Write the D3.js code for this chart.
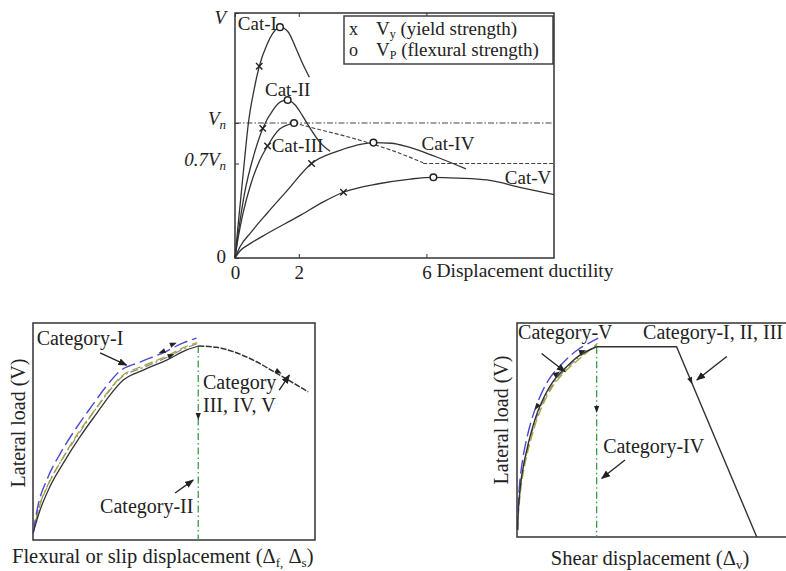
<!DOCTYPE html>
<html lang="en">
<head>
<meta charset="UTF-8">
<title>lateral load categories</title>
<script src="https://cdn.jsdelivr.net/npm/d3@7"></script>
<style>
  body { margin: 0; background: #fff; }
  text { font-family: "Liberation Serif", "Times New Roman", serif; fill: #222; }
</style>
</head>
<body>
<div id="viz-wrapper"></div>
<script>
// ---- top panel data (x = displacement ductility, y = V / Vn)
var catI = [[0,0],[0.1,0.25],[0.2,0.49],[0.3,0.73],[0.42,1.0],[0.6,1.25],[0.76,1.42],[1.0,1.58],[1.2,1.67],[1.41,1.71],[1.65,1.68],[1.9,1.56],[2.1,1.45],[2.33,1.34]];
var catII = [[0,0],[0.1,0.18],[0.3,0.48],[0.6,0.77],[0.87,0.96],[1.2,1.1],[1.45,1.16],[1.65,1.17],[1.9,1.13],[2.1,1.06],[2.33,0.97],[2.65,0.86],[2.98,0.79]];
var catIII = [[0,0],[0.1,0.15],[0.25,0.33],[0.5,0.55],[0.75,0.71],[1.02,0.83],[1.4,0.955],[1.85,1.0]];
var catIIIpost = [[1.85,1.0],[2.5,0.96],[3.5,0.9],[4.3,0.845],[5.0,0.79],[5.9,0.706]];
var catIV = [[0,0],[0.15,0.08],[0.5,0.19],[1.0,0.33],[1.6,0.49],[2.4,0.70],[3.2,0.79],[3.8,0.835],[4.34,0.855],[4.9,0.85],[5.4,0.825],[6.3,0.75],[7.24,0.66]];
var catV = [[0,0],[0.15,0.05],[0.5,0.11],[1.0,0.18],[2.0,0.31],[2.8,0.42],[3.4,0.487],[4.5,0.55],[5.5,0.585],[6.22,0.598],[7.0,0.592],[7.9,0.578],[9.0,0.52],[10,0.47]];
var vnLine = [[0,1],[10,1]];
var v07Line = [[5.9,0.7],[10,0.7]];
var yieldPts = [[0.76,1.42],[0.87,0.96],[1.02,0.83],[2.4,0.70],[3.4,0.487]];
var peakPts = [[1.41,1.71],[1.65,1.17],[1.85,1.0],[4.34,0.855],[6.22,0.598]];
var xTicks = [0, 2, 6];
var yTicks = [0, 0.7, 1, 1.815];
var catNames = ["Cat-I", "Cat-II", "Cat-III", "Cat-IV", "Cat-V"];
var catAt = [[0.09,1.69],[0.94,1.2],[1.15,0.787],[5.85,0.8],[8.46,0.546]];

// ---- bottom-left panel (flexural / slip), 0-100 units
var flexBlack = [[0,3],[2.5,13.8],[6,24.6],[10.7,35.3],[16.7,47.6],[22.6,58.4],[27.3,66.8],[32,73.7],[39.1,78.3],[47.4,82.9],[54.5,87.6],[58.6,89.4]];
var flexPost = [[58.6,89.4],[65.1,88.8],[71,86.8],[78.1,82.9],[86.4,76.8],[97.6,68.3]];
var flexBlue = [[0,3],[1.8,16],[5,28],[9.5,39.5],[15.3,51.5],[21,62],[25.8,70.5],[30.5,77.5],[38,82],[46.5,86.5],[53.5,91],[58,93]];
var flexOlive = [[0,3],[2.2,15],[5.6,26],[10.2,37],[16.1,49.5],[22,60],[26.7,68.5],[31.4,75.5],[38.6,80],[47,84.5],[54,89],[58.3,91]];
var flexGrey = [[0,3],[2,14.5],[5.3,25.5],[10,36.5],[16,48.5],[21.8,59.5],[26.5,67.8],[31.2,74.8],[38.8,79.3],[47.2,84],[54.2,88.5],[58.4,90.5]];
var flexDrop = [[58.6,89.4],[58.6,0]];

// ---- bottom-right panel (shear), 0-100 units
var shearBlack = [[0.2,3.3],[0.5,12.6],[1.7,28.2],[4.2,43.8],[7.9,59.3],[12.9,71.8],[18.4,79.6],[23.3,85],[29.5,88.9]];
var shearFlat = [[29.5,88.9],[59.1,88.9],[88.8,0]];
var shearBlue = [[0.2,3],[0.4,14],[1.4,30],[3.6,46],[7.2,61.5],[12,74],[17.5,82],[22.5,87.5],[30.1,92.9]];
var shearOlive = [[0.2,3],[0.6,12],[1.9,27],[4.5,42.5],[8.3,58],[13.3,70.5],[18.8,78.5],[23.8,84],[29.8,90.5]];
var shearGrey = [[0.2,3],[0.5,13],[1.8,28.8],[4.3,43.3],[8.1,58.7],[13.1,71],[18.6,79],[23.6,84.6],[29.6,89.6]];
var shearDrop = [[29.5,88.9],[29.5,0]];

var width = 786, height = 571;

var svg = d3.select("#viz-wrapper").append("svg")
    .attr("width", width)
    .attr("height", height);

var defs = svg.append("defs");
defs.append("marker")
    .attr("id", "ah")
    .attr("viewBox", "0 0 10 10")
    .attr("refX", 9).attr("refY", 5)
    .attr("markerWidth", 7).attr("markerHeight", 7)
    .attr("orient", "auto")
  .append("path")
    .attr("d", "M0,1 L10,5 L0,9 Z")
    .attr("fill", "#222");

function drawLine(g, xs, ys, pts, stroke, w, dash, curve) {
  var line = d3.line()
      .x(function(d) { return xs(d[0]); })
      .y(function(d) { return ys(d[1]); })
      .curve(curve || d3.curveMonotoneX);
  return g.append("path")
      .attr("d", line(pts))
      .attr("fill", "none")
      .attr("stroke", stroke)
      .attr("stroke-width", w)
      .attr("stroke-dasharray", dash || null);
}

// small arrowhead sitting on a curve, pointing along (dx, dy) in data units
function headOn(g, xs, ys, x, y, dx, dy) {
  var a = Math.atan2(ys(y + dy) - ys(y), xs(x + dx) - xs(x)) * 180 / Math.PI;
  g.append("path")
      .attr("d", "M3,0 L-4,-2.6 L-4,2.6 Z")
      .attr("fill", "#222")
      .attr("transform", "translate(" + xs(x) + "," + ys(y) + ") rotate(" + a + ")");
}

function pointer(g, xs, ys, from, to) {
  g.append("line")
      .attr("x1", xs(from[0])).attr("y1", ys(from[1]))
      .attr("x2", xs(to[0])).attr("y2", ys(to[1]))
      .attr("stroke", "#222").attr("stroke-width", 1.3)
      .attr("marker-end", "url(#ah)");
}

// ================= top panel
var x0 = d3.scaleLinear().domain([0, 10]).range([235, 554]);
var y0 = d3.scaleLinear().domain([0, 1.815]).range([258, 13]);
var topG = svg.append("g");

topG.append("rect")
    .attr("x", x0(0)).attr("y", y0(1.815))
    .attr("width", x0(10) - x0(0)).attr("height", y0(0) - y0(1.815))
    .attr("fill", "none").attr("stroke", "#333").attr("stroke-width", 1.5);

var xAxis = topG.append("g")
    .attr("transform", "translate(0," + y0(0) + ")")
    .call(d3.axisBottom(x0).tickValues(xTicks).tickSize(-4).tickPadding(8));
xAxis.select(".domain").remove();
xAxis.selectAll("text").attr("font-size", 19).attr("font-family", "Liberation Serif").attr("fill", "#222");
xAxis.selectAll("line").attr("stroke", "#333");
topG.append("g")
    .attr("transform", "translate(0," + y0(1.815) + ")")
    .call(d3.axisTop(x0).tickValues(xTicks).tickSize(-4).tickFormat(""))
    .call(function(g) { g.select(".domain").remove(); g.selectAll("line").attr("stroke", "#333"); });

topG.append("text")
    .attr("x", x0(6) + 10).attr("y", y0(0) + 19)
    .attr("font-size", 19.5)
    .text("Displacement ductility");

var yAxis = topG.append("g")
    .attr("transform", "translate(" + x0(0) + ",0)")
    .call(d3.axisLeft(y0).tickValues(yTicks).tickSize(-4).tickPadding(9).tickFormat(""));
yAxis.select(".domain").remove();
yAxis.selectAll("line").attr("stroke", "#333");
var yLab = { 0: ["0", "", "0.25em"], 0.7: ["0.7V", "n", "0.1em"], 1: ["V", "n", "0.1em"], 1.815: ["V", "", "0.55em"] };
yAxis.selectAll(".tick").each(function(d) {
  var t = d3.select(this).select("text")
      .attr("font-size", 19).attr("font-family", "Liberation Serif").attr("fill", "#222")
      .attr("dy", yLab[d][2]);
  if (d !== 0) t.attr("font-style", "italic");
  t.append("tspan").text(yLab[d][0]);
  if (yLab[d][1]) t.append("tspan").attr("font-size", 13).attr("dy", 4).text(yLab[d][1]);
});

drawLine(topG, x0, y0, vnLine, "#444", 1, "6,2,1.5,2", d3.curveLinear);
drawLine(topG, x0, y0, v07Line, "#444", 1, "4,2", d3.curveLinear);
drawLine(topG, x0, y0, catIIIpost, "#444", 1.1, "4,2");
[catI, catII, catIII, catIV, catV].forEach(function(c) {
  drawLine(topG, x0, y0, c, "#333", 1.3);
});

yieldPts.forEach(function(p) {
  var cx = x0(p[0]), cy = y0(p[1]), s = 3.2;
  topG.append("path")
      .attr("d", "M" + (cx - s) + "," + (cy - s) + "L" + (cx + s) + "," + (cy + s) +
                 "M" + (cx - s) + "," + (cy + s) + "L" + (cx + s) + "," + (cy - s))
      .attr("stroke", "#222").attr("stroke-width", 1.4);
});
topG.selectAll(".pk").data(peakPts).enter().append("circle")
    .attr("cx", function(d) { return x0(d[0]); })
    .attr("cy", function(d) { return y0(d[1]); })
    .attr("r", 3.3)
    .attr("fill", "#fff").attr("stroke", "#222").attr("stroke-width", 1.5);

catNames.forEach(function(n, i) {
  topG.append("text")
      .attr("x", x0(catAt[i][0])).attr("y", y0(catAt[i][1]))
      .attr("font-size", 19)
      .text(n);
});

// legend
var lg = topG.append("g");
lg.append("rect")
    .attr("x", 344).attr("y", 16).attr("width", 209).attr("height", 48)
    .attr("fill", "#fff").attr("stroke", "#333").attr("stroke-width", 1.4);
var legRows = [["x", "V", "y", " (yield strength)"], ["o", "V", "P", " (flexural strength)"]];
legRows.forEach(function(r, i) {
  var yy = 35 + i * 20.5;
  lg.append("text").attr("x", 349).attr("y", yy).attr("font-size", 18).text(r[0]);
  var t = lg.append("text").attr("x", 376).attr("y", yy).attr("font-size", 19);
  t.append("tspan").text(r[1]);
  t.append("tspan").attr("font-size", 12).attr("dy", 3).text(r[2]);
  t.append("tspan").attr("dy", -3).text(r[3]);
});

// ================= bottom-left panel
var x1 = d3.scaleLinear().domain([0, 100]).range([33, 315]);
var y1 = d3.scaleLinear().domain([0, 100]).range([540, 323]);
var bl = svg.append("g");
bl.append("rect")
    .attr("x", x1(0)).attr("y", y1(100))
    .attr("width", x1(100) - x1(0)).attr("height", y1(0) - y1(100))
    .attr("fill", "none").attr("stroke", "#333").attr("stroke-width", 1.5);

drawLine(bl, x1, y1, flexDrop, "#3a9a4a", 1.3, "7,3,1.5,3", d3.curveLinear);
drawLine(bl, x1, y1, flexGrey, "#888", 1.2, "8,3,2,3");
drawLine(bl, x1, y1, flexOlive, "#a4a43a", 1.3, "9,4");
drawLine(bl, x1, y1, flexBlue, "#4a4ad0", 1.4, "14,5");
drawLine(bl, x1, y1, flexBlack, "#333", 1.3);
drawLine(bl, x1, y1, flexPost, "#333", 1.5, "6,1.5");

headOn(bl, x1, y1, 87.3, 77.3, 1, -0.75);
headOn(bl, x1, y1, 58.6, 56.7, 0, -1);
headOn(bl, x1, y1, 45.5, 86.6, -1, -0.5);
headOn(bl, x1, y1, 50, 90.4, 1, 0.5);
headOn(bl, x1, y1, 49.2, 85.2, 1, 0.55);

bl.append("text").attr("x", x1(1.3)).attr("y", y1(89.9)).attr("font-size", 20).text("Category-I");
bl.append("text").attr("x", x1(60.3)).attr("y", y1(69.4)).attr("font-size", 20).text("Category");
bl.append("text").attr("x", x1(60.3)).attr("y", y1(59.1)).attr("font-size", 20).text("III, IV, V");
bl.append("text").attr("x", x1(23.8)).attr("y", y1(12.3)).attr("font-size", 20).text("Category-II");
pointer(bl, x1, y1, [23.8, 86.2], [33.2, 80.6]);
pointer(bl, x1, y1, [87.3, 69.1], [90.9, 76.0]);
pointer(bl, x1, y1, [50.4, 21.7], [56.8, 27.6]);

var xl1 = bl.append("text").attr("x", 12).attr("y", 563).attr("font-size", 20.5);
xl1.append("tspan").text("Flexural or slip displacement (\u0394");
xl1.append("tspan").attr("font-size", 13).attr("dy", 4).text("f,");
xl1.append("tspan").attr("dy", -4).text(" \u0394");
xl1.append("tspan").attr("font-size", 13).attr("dy", 4).text("s");
xl1.append("tspan").attr("dy", -4).text(")");
bl.append("text")
    .attr("transform", "translate(25,423) rotate(-90)")
    .attr("text-anchor", "middle").attr("font-size", 20)
    .text("Lateral load (V)");

// ================= bottom-right panel
var x2 = d3.scaleLinear().domain([0, 100]).range([517, 787]);
var y2 = d3.scaleLinear().domain([0, 100]).range([537, 323]);
var br = svg.append("g");
br.append("rect")
    .attr("x", x2(0)).attr("y", y2(100))
    .attr("width", x2(100) - x2(0) + 4).attr("height", y2(0) - y2(100))
    .attr("fill", "none").attr("stroke", "#333").attr("stroke-width", 1.5);

drawLine(br, x2, y2, shearDrop, "#3a9a4a", 1.3, "7,3,1.5,3", d3.curveLinear);
drawLine(br, x2, y2, shearGrey, "#888", 1.2, "8,3,2,3", d3.curveCatmullRom);
drawLine(br, x2, y2, shearOlive, "#a4a43a", 1.3, "9,4", d3.curveCatmullRom);
drawLine(br, x2, y2, shearBlue, "#4a4ad0", 1.4, "14,5", d3.curveCatmullRom);
drawLine(br, x2, y2, shearBlack, "#333", 1.4, null, d3.curveCatmullRom);
drawLine(br, x2, y2, shearFlat, "#333", 1.4, null, d3.curveLinear);

headOn(br, x2, y2, 29.5, 59.3, 0, -1);
headOn(br, x2, y2, 64.5, 72.7, 1, -3);
headOn(br, x2, y2, 15, 76.5, 1, 0.9);
headOn(br, x2, y2, 7.2, 60.5, -0.5, -1);
headOn(br, x2, y2, 24.5, 86.8, 1, 0.4);

br.append("text").attr("x", x2(0.4)).attr("y", y2(92.5)).attr("font-size", 20).text("Category-V");
br.append("text").attr("x", x2(46.7)).attr("y", y2(92.5)).attr("font-size", 20).text("Category-I, II, III");
br.append("text").attr("x", x2(31.9)).attr("y", y2(39.4)).attr("font-size", 20).text("Category-IV");
pointer(br, x2, y2, [9.1, 85.8], [17.8, 77.2]);
pointer(br, x2, y2, [77.7, 84.3], [66.6, 73.4]);
pointer(br, x2, y2, [40, 36], [31.4, 27.4]);

var xl2 = br.append("text").attr("x", 650).attr("y", 565).attr("font-size", 20.5).attr("text-anchor", "middle");
xl2.append("tspan").text("Shear displacement (\u0394");
xl2.append("tspan").attr("font-size", 13).attr("dy", 4).text("v");
xl2.append("tspan").attr("dy", -4).text(")");
br.append("text")
    .attr("transform", "translate(508,420) rotate(-90)")
    .attr("text-anchor", "middle").attr("font-size", 20)
    .text("Lateral load (V)");
</script>
</body>
</html>
